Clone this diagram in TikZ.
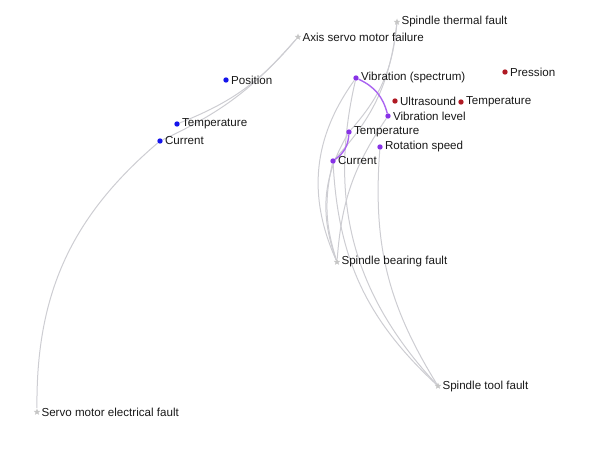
\documentclass[tikz,border=0pt]{standalone}
\usepackage{fontspec}
\setmainfont{Liberation Sans}
\usetikzlibrary{shapes.geometric,backgrounds}
\definecolor{dblue}{RGB}{20,20,235}
\definecolor{dpurple}{RGB}{135,50,230}
\definecolor{dred}{RGB}{175,25,35}
\definecolor{edgegray}{RGB}{205,205,210}
\definecolor{lpurple}{RGB}{170,100,240}
\tikzset{
  fault/.style={star, star points=5, star point ratio=2.3, fill=gray!45, draw=none, minimum size=7pt, inner sep=0pt},
  dotb/.style={circle, fill=dblue, minimum size=5.4pt, inner sep=0pt},
  dotp/.style={circle, fill=dpurple, minimum size=5.4pt, inner sep=0pt},
  dotr/.style={circle, fill=dred, minimum size=5.4pt, inner sep=0pt},
  lbl/.style={anchor=west, inner sep=1pt, xshift=1pt, text=black!90, font=\fontsize{11.6}{13}\selectfont},
  gedge/.style={draw=edgegray, line width=1pt},
  pedge/.style={draw=lpurple, line width=1.4pt}
}
\begin{document}
\begin{tikzpicture}[x=1pt,y=-1pt]
\useasboundingbox (0,0) rectangle (600,449);
% nodes
\node[fault] (asm) at (298,37) {};
\node[lbl] (asml) at (asm.east) {Axis servo motor failure};
\node[fault] (stf) at (397,22) {};
\node[lbl] (stfl) at (stf.east) {Spindle thermal fault};
\node[fault] (sme) at (37,412) {};
\node[lbl] (smel) at (sme.east) {Servo motor electrical fault};
\node[fault] (sbf) at (337,262) {};
\node[lbl] (sbfl) at (sbf.east) {Spindle bearing fault};
\node[fault] (stl) at (438,386) {};
\node[lbl] (stll) at (stl.east) {Spindle tool fault};

\node[dotb] (pos) at (226,80) {};
\node[lbl] (posl) at (pos.east) {Position};
\node[dotb] (tb) at (177,124) {};
\node[lbl] (tbl) at (tb.east) {Temperature};
\node[dotb] (cb) at (160,141) {};
\node[lbl] (cbl) at (cb.east) {Current};

\node[dotp] (vs) at (356,78) {};
\node[lbl] (vsl) at (vs.east) {Vibration (spectrum)};
\node[dotp] (vl) at (388,116) {};
\node[lbl] (vll) at (vl.east) {Vibration level};
\node[dotp] (tp) at (349,132) {};
\node[lbl] (tpl) at (tp.east) {Temperature};
\node[dotp] (rs) at (380,147) {};
\node[lbl] (rsl) at (rs.east) {Rotation speed};
\node[dotp] (cp) at (333,161) {};
\node[lbl] (cpl) at (cp.east) {Current};

\node[dotr] (us) at (395,101) {};
\node[lbl] (usl) at (us.east) {Ultrasound};
\node[dotr] (tr) at (461,102) {};
\node[lbl] (trl) at (tr.east) {Temperature};
\node[dotr] (pr) at (505,72) {};
\node[lbl] (prl) at (pr.east) {Pression};

\begin{scope}[on background layer]
% left group
\draw[gedge] (asm) to[bend left=14] (tb);
\draw[gedge] (asm) to[bend left=12] (cb);
\draw[gedge] (cb) to[bend right=25] (sme);
% spindle thermal
\draw[gedge] (stf) to[bend left=18] (tp);
\draw[gedge] (stf) to[bend left=18] (cp);
% bearing
\draw[gedge] (vs) to[bend right=30] (sbf);
\draw[gedge] (tp) to[bend right=25] (sbf);
\draw[gedge] (cp) to[bend right=15] (sbf);
\draw[gedge] (vl) to[bend right=15] (sbf);
% tool
\draw[gedge] (vs) to[bend right=28] (stl);
\draw[gedge] (cp) to[bend right=22] (stl);
\draw[gedge] (rs) to[bend right=18] (stl);
% purple
\draw[pedge] (vs) to[bend left=25] (vl);
\draw[pedge] (tp) to[bend left=25] (cp);
\end{scope}
\end{tikzpicture}
\end{document}
